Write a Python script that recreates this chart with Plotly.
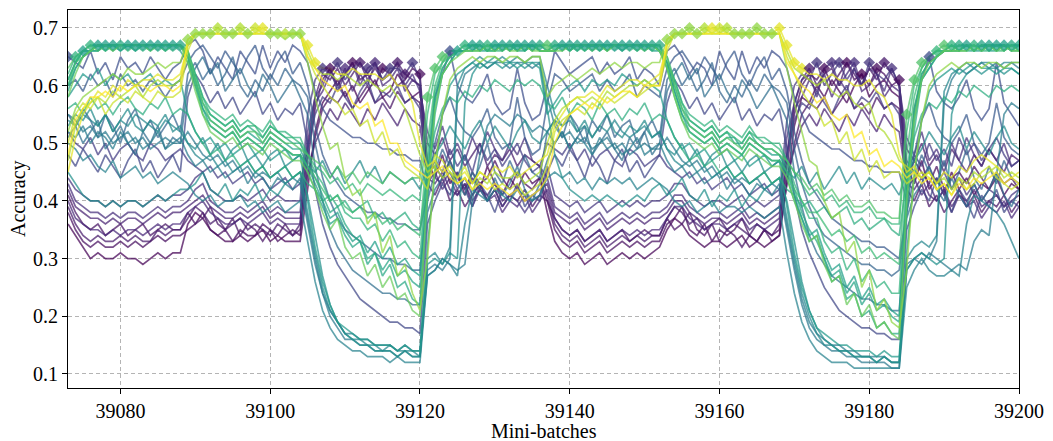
import plotly.graph_objects as go
from plotly.colors import sample_colorscale

mini_batches = list(range(39073, 39201))
x_ticks = [39080, 39100, 39120, 39140, 39160, 39180, 39200]
x_tick_labels = ["39080", "39100", "39120", "39140", "39160", "39180", "39200"]
y_ticks = [0.1, 0.2, 0.3, 0.4, 0.5, 0.6, 0.7]
y_tick_labels = ["0.1", "0.2", "0.3", "0.4", "0.5", "0.6", "0.7"]

# accuracy values in percent, one list per model (128 mini-batches each)
p1 = [36,34,32,30,31,30,30,31,30,30,29,30,31,30,31,31,
      36,38,37,35,34,33,33,34,33,34,35,33,34,33,33,33,
      42,52,57,59,61,58,60,57,59,61,58,59,62,60,58,59,
      47,44,48,43,45,41,44,42,46,43,41,44,42,45,43,44,
      38,33,31,30,31,29,30,31,29,30,31,30,31,30,31,32,
      35,37,36,34,33,32,33,33,32,33,34,32,33,32,33,34,
      43,53,58,57,60,58,61,59,57,60,62,58,60,61,59,58,
      46,43,47,42,44,41,45,42,44,41,43,42,44,41,43,42]
p2 = [38,35,33,32,33,32,32,33,32,33,32,33,34,33,34,34,
      35,36,38,35,34,35,33,35,34,34,36,35,33,34,35,34,
      47,56,61,63,60,62,64,61,62,60,63,62,60,61,63,62,
      45,46,44,47,44,42,45,43,44,47,44,42,45,43,42,44,
      40,35,33,32,33,31,32,33,31,32,33,32,33,32,33,33,
      36,37,39,35,34,36,33,35,34,35,37,34,33,35,34,35,
      46,55,60,62,61,63,60,62,64,61,62,60,63,62,60,61,
      44,47,45,43,46,42,44,45,43,46,44,42,45,43,44,42]
p9 = [41,38,36,35,36,34,35,36,34,35,36,34,35,36,35,35,
      38,36,37,39,36,35,37,34,36,35,33,35,34,36,34,35,
      44,51,56,58,57,59,56,58,60,57,58,56,59,57,58,57,
      43,41,44,40,42,39,41,43,40,42,39,41,40,42,39,41,
      40,37,35,34,35,33,34,35,33,34,35,33,34,35,34,34,
      37,35,36,38,35,34,36,33,35,34,32,34,33,35,33,34,
      43,50,55,57,56,58,55,57,59,56,57,55,58,56,57,56,
      42,40,43,39,41,38,40,42,39,41,38,40,39,41,38,40]
p3 = [39,36,34,33,34,33,33,34,33,34,33,33,35,34,35,35,
      37,39,38,36,37,35,36,37,35,36,35,34,36,35,34,36,
      50,58,62,61,63,60,62,64,61,63,61,62,64,62,61,60,
      50,48,51,47,49,46,48,50,46,48,47,49,46,48,47,46,
      41,36,34,33,34,32,33,34,32,33,34,33,34,33,34,34,
      37,39,38,36,37,35,36,37,35,36,35,34,36,35,34,36,
      48,57,61,63,60,62,63,60,64,62,60,63,61,64,62,60,
      49,47,50,46,48,45,49,47,45,48,46,49,47,45,48,47]
p4 = [42,39,38,37,37,36,37,36,37,37,36,37,38,37,38,38,
      39,40,41,39,38,37,37,38,37,38,39,37,38,37,37,37,
      45,50,53,56,54,57,55,53,56,54,57,55,53,56,54,53,
      44,43,45,42,41,43,40,42,41,43,40,41,42,40,41,42,
      43,38,37,36,37,35,36,37,35,36,37,36,37,36,37,37,
      38,40,40,38,37,36,37,37,36,37,38,36,37,36,37,38,
      44,49,53,55,53,56,54,52,55,53,56,54,52,55,53,52,
      43,42,44,41,40,42,39,41,40,42,39,40,41,39,40,41]
p8 = [40,37,36,35,35,34,35,34,35,35,34,35,36,35,36,36,
      38,39,40,38,37,36,36,37,36,37,38,36,37,36,36,36,
      49,57,59,62,60,63,59,62,60,64,60,61,63,59,61,60,
      43,45,42,44,41,43,39,42,40,41,38,40,39,41,38,40,
      42,37,35,34,35,33,34,35,33,34,35,34,35,34,35,35,
      37,39,39,37,36,35,36,36,35,36,37,35,36,35,36,37,
      48,56,58,61,59,62,58,61,59,63,59,60,62,58,60,59,
      42,44,41,43,40,42,38,41,39,40,37,39,38,40,37,39]
p5 = [43,40,39,38,38,37,38,37,38,38,37,38,39,38,39,39,
      40,42,43,40,39,38,38,39,38,39,40,38,39,38,38,38,
      52,58,60,63,59,62,64,60,63,64,61,62,64,60,62,59,
      52,49,53,48,50,47,51,48,52,49,47,50,48,51,47,46,
      44,39,38,37,38,36,37,38,36,37,38,37,38,37,38,38,
      39,41,41,39,38,37,38,38,37,38,39,37,38,37,38,39,
      51,57,61,62,58,63,64,60,62,64,60,63,62,59,63,60,
      51,48,52,47,49,46,50,47,51,48,46,49,47,50,46,47]
p6 = [44,42,41,40,40,39,40,39,40,40,39,40,41,40,41,41,
      42,44,45,42,41,40,40,41,40,41,42,40,41,40,40,40,
      55,61,63,62,64,61,63,64,62,64,61,63,63,62,64,61,
      46,44,43,45,42,44,41,43,40,42,39,41,40,38,40,41,
      46,41,40,39,40,38,39,40,38,39,40,39,40,39,40,40,
      41,43,43,41,40,39,40,40,39,40,41,39,40,39,40,41,
      54,60,62,61,64,60,62,64,61,63,60,64,62,61,63,60,
      47,45,44,46,43,45,42,44,41,43,40,42,41,39,41,42]
p7 = [52,50,49,51,48,50,47,49,50,48,47,50,49,47,48,49,
      47,46,45,46,44,45,43,44,45,43,44,42,43,44,42,43,
      49,55,58,57,60,58,56,59,61,57,59,58,60,57,58,56,
      44,47,45,49,46,48,45,50,47,49,46,48,50,47,45,46,
      50,49,48,50,47,49,46,48,49,47,46,49,48,46,47,48,
      46,45,44,45,43,44,42,43,44,42,43,41,42,43,41,42,
      48,54,57,56,59,57,55,58,60,56,58,57,59,56,57,55,
      45,48,46,50,47,49,46,51,48,50,47,49,51,48,46,47]
db5 = [48,46,49,47,45,48,46,44,47,49,45,47,44,46,48,45,
       58,62,60,57,59,56,58,55,57,59,55,57,54,56,55,57,
       50,42,36,32,29,27,25,23,22,21,20,19,19,18,18,17,
       36,40,43,41,45,42,39,43,41,38,42,40,43,39,41,40,
       45,48,46,49,47,44,48,46,43,47,49,45,47,44,46,48,
       57,61,59,56,58,55,57,54,56,58,54,56,53,55,54,56,
       49,41,35,31,28,25,23,21,20,19,18,18,17,17,16,16,
       35,39,42,40,44,41,38,42,40,37,41,39,42,38,40,39]
db1 = [65,64,63,66,62,64,61,65,63,64,62,65,63,61,63,64,
       67,68,66,62,65,63,61,66,64,62,67,63,66,64,67,66,
       64,59,56,54,53,52,51,51,50,50,49,49,48,48,47,47,
       42,58,62,66,60,58,57,59,62,57,55,56,63,57,54,55,
       60,66,64,62,63,64,65,62,64,62,63,65,61,63,62,60,
       66,67,65,62,64,63,60,66,63,61,66,62,65,63,66,65,
       63,58,55,52,51,50,49,49,48,47,47,46,46,45,45,45,
       40,56,61,65,59,57,56,58,61,56,54,56,64,57,55,53]
db2 = [60,61,59,62,60,61,58,62,60,61,59,61,60,58,60,61,
       64,66,67,65,63,66,64,62,65,67,63,61,64,66,62,64,
       60,53,48,45,43,41,40,39,38,38,37,37,36,36,35,35,
       41,50,55,58,54,52,51,53,56,51,49,50,58,51,48,49,
       57,62,61,59,60,61,62,59,61,59,60,62,58,60,59,58,
       63,65,66,64,62,65,63,61,64,66,62,60,63,65,61,63,
       59,52,47,43,41,39,37,36,35,34,33,33,32,32,31,30,
       38,48,54,57,53,51,50,52,55,50,48,50,57,51,49,48]
db3 = [55,53,56,54,51,55,53,50,54,56,52,54,51,53,55,52,
       62,64,61,63,60,62,65,60,58,61,59,62,60,63,61,60,
       58,50,44,40,37,35,34,33,32,31,30,30,29,29,28,28,
       40,45,49,46,44,48,43,46,50,45,43,47,44,48,45,44,
       52,54,51,55,53,50,54,52,55,51,53,54,50,52,54,51,
       61,63,60,62,59,61,64,59,57,60,58,61,59,62,60,59,
       57,49,43,39,36,34,33,32,31,30,29,29,28,28,27,28,
       38,44,48,45,43,47,42,45,49,44,42,46,43,47,44,43]
db4 = [51,53,50,52,54,49,51,53,50,48,52,50,53,49,51,50,
       60,63,65,62,64,59,61,63,60,58,62,60,57,59,61,58,
       55,46,40,35,32,30,28,27,26,25,24,24,23,23,22,22,
       38,42,44,47,43,41,45,42,40,44,41,43,46,42,40,43,
       47,50,52,49,51,53,48,50,52,49,47,51,49,52,48,50,
       59,62,64,61,63,58,60,62,59,57,61,59,56,58,60,57,
       54,45,39,34,31,29,27,26,25,24,23,23,22,22,21,21,
       37,41,43,46,42,40,44,41,39,43,40,42,45,41,39,42]
t1 = [55,54,52,53,51,52,50,51,52,50,51,49,50,51,50,50,
      52,50,48,47,48,46,47,45,46,44,45,44,45,43,44,43,
      36,29,24,20,18,16,16,15,15,14,14,14,13,14,13,13,
      28,29,28,30,58,62,63,64,63,64,64,63,64,64,63,64,
      58,53,51,52,50,51,49,50,51,49,50,48,49,50,49,49,
      51,49,47,46,47,45,46,44,45,43,44,43,44,42,43,42,
      35,28,22,18,16,15,14,14,13,13,12,12,12,12,11,11,
      29,30,31,30,33,57,61,63,62,63,64,63,64,63,64,63]
t6 = [52,51,53,50,52,51,49,52,50,51,49,50,52,49,50,51,
      48,46,47,45,46,44,45,46,43,45,44,42,44,43,42,44,
      37,30,24,21,19,17,17,16,16,15,15,15,14,15,14,14,
      27,28,30,29,28,29,40,48,53,55,54,53,55,54,52,53,
      52,50,52,49,51,50,48,51,49,50,48,49,51,48,49,50,
      47,45,46,44,45,43,44,45,42,44,43,41,43,42,41,43,
      36,29,23,19,17,16,15,15,14,14,13,13,13,13,12,12,
      28,30,29,31,30,29,28,29,28,33,35,34,45,55,57,56]
t2 = [50,49,47,48,46,45,47,44,45,46,44,45,43,44,45,44,
      43,41,40,41,39,40,40,41,39,40,38,39,40,38,39,40,
      33,26,21,18,16,15,14,14,13,13,13,12,13,12,12,12,
      27,28,30,29,27,36,42,41,40,42,41,40,42,41,40,41,
      44,45,44,45,43,44,42,44,43,44,43,44,42,43,44,43,
      42,40,39,40,38,39,40,38,39,39,38,39,38,37,38,39,
      31,24,19,16,14,13,12,12,12,11,11,11,11,11,11,11,
      25,28,30,28,27,27,28,27,36,41,40,39,38,36,33,30]
t3 = [54,53,55,54,53,55,52,54,53,55,54,53,52,54,53,52,
      50,48,47,48,46,47,45,46,47,45,46,44,45,46,44,45,
      38,31,25,21,19,17,16,16,15,15,14,15,14,14,14,13,
      30,31,29,32,60,63,64,65,64,64,65,64,65,64,65,65,
      60,55,53,54,52,53,51,53,52,54,52,51,52,53,51,52,
      49,47,46,47,45,46,44,45,46,44,45,43,44,45,43,44,
      37,30,24,20,17,15,15,14,14,13,13,13,12,13,12,12,
      30,32,33,32,34,59,62,63,64,63,64,64,63,64,64,64]
m1 = [53,55,54,56,53,55,52,54,56,53,52,54,53,55,52,53,
      50,49,51,48,50,47,49,50,47,48,46,48,49,46,47,48,
      46,45,47,44,46,43,45,47,44,46,43,45,44,43,44,42,
      46,48,50,53,51,49,52,54,50,53,51,49,52,54,51,50,
      52,54,53,55,52,54,51,53,55,52,51,53,52,54,51,52,
      49,48,50,47,49,46,48,49,46,47,45,47,48,45,46,47,
      45,44,46,43,45,42,44,46,43,45,42,44,43,42,43,41,
      45,47,49,52,50,48,51,53,49,52,50,48,51,53,50,49]
t4 = [45,43,41,40,40,39,40,39,40,40,39,40,41,40,41,42,
      42,43,45,42,41,43,40,42,41,43,40,42,41,43,44,45,
      41,34,27,22,19,17,16,15,15,14,14,14,13,14,13,13,
      29,30,29,31,30,57,62,64,63,64,63,64,64,63,64,64,
      56,48,44,42,41,40,41,40,41,40,39,40,41,40,42,43,
      41,42,44,41,40,42,39,41,40,42,39,41,40,42,43,44,
      40,33,26,21,18,16,15,14,14,13,13,13,12,13,12,12,
      28,30,31,30,29,30,55,60,62,63,62,63,63,62,63,62]
t5 = [58,60,62,61,63,60,62,61,62,60,61,62,60,61,60,61,
      55,52,50,51,49,50,48,49,50,48,49,47,48,49,47,48,
      40,32,26,22,19,18,17,16,16,15,15,15,14,15,14,14,
      32,45,55,60,62,63,64,63,64,65,64,64,63,64,64,63,
      55,57,59,60,61,59,61,60,61,60,62,61,60,61,60,59,
      54,51,49,50,48,49,47,48,49,47,48,46,47,48,46,47,
      39,31,25,21,18,17,16,15,15,14,14,14,13,14,13,13,
      31,44,54,59,61,62,63,62,63,64,63,63,62,63,63,62]
g1 = [61,64,66,66,67,67,67,66,67,67,67,67,67,67,67,66,
      64,60,56,54,53,52,53,51,52,51,50,52,51,50,49,49,
      46,43,40,37,38,35,33,34,31,33,30,32,29,30,28,27,
      45,58,63,65,66,66,67,66,66,67,67,66,67,67,67,66,
      66,66,67,67,66,67,67,67,67,66,67,67,67,67,66,66,
      63,59,55,53,52,51,52,50,51,51,49,51,50,49,48,48,
      45,41,37,34,35,31,28,29,25,27,23,25,22,23,21,20,
      42,55,62,64,65,66,66,66,67,66,66,67,67,67,66,66]
g7 = [60,63,65,66,66,67,67,66,67,66,67,67,67,66,67,67,
      65,61,56,53,52,51,52,50,51,50,49,51,50,49,48,48,
      45,42,39,36,37,34,32,33,29,31,28,30,27,28,26,25,
      43,57,62,64,66,66,66,67,66,67,66,67,66,66,67,66,
      66,66,67,66,67,67,66,67,67,67,66,67,66,67,67,66,
      64,59,55,52,51,50,51,49,50,49,48,50,49,48,47,47,
      44,40,37,33,34,30,27,28,24,26,22,24,21,22,20,19,
      41,54,61,63,65,66,66,66,67,66,67,66,66,67,66,67]
g2 = [59,63,65,66,66,67,66,67,67,66,67,67,66,67,67,67,
      65,61,57,55,54,53,54,52,53,52,51,53,52,51,50,50,
      47,44,41,38,39,36,34,33,30,31,27,29,25,26,23,22,
      40,55,62,64,66,66,66,67,66,66,67,67,66,67,66,67,
      66,67,66,67,67,66,67,66,67,67,66,67,67,66,67,67,
      64,60,56,54,53,52,53,51,52,50,50,52,50,49,49,48,
      46,42,38,35,33,30,26,27,23,24,20,21,18,19,17,17,
      38,52,61,63,65,66,66,67,66,66,67,66,67,66,67,67]
m2 = [56,57,55,58,56,57,55,57,58,56,55,57,56,58,55,56,
      55,52,50,48,49,47,48,46,47,45,46,44,45,46,44,45,
      43,42,40,41,39,40,38,39,40,37,38,36,37,38,36,35,
      45,52,56,58,57,59,58,60,59,61,60,59,61,60,61,60,
      57,56,58,55,57,56,54,57,55,56,54,56,55,57,54,55,
      54,51,49,47,48,46,47,45,46,44,45,43,44,45,43,44,
      42,41,39,40,38,39,37,38,39,36,37,35,36,37,35,34,
      44,51,55,57,56,58,57,59,58,60,59,58,60,59,60,59]
g3 = [62,65,66,67,67,66,67,67,67,67,66,67,67,67,66,67,
      66,62,58,56,55,54,55,53,54,53,52,54,52,52,51,51,
      48,45,43,40,41,38,37,37,35,36,33,35,32,33,31,30,
      47,59,63,65,66,67,66,66,67,66,66,67,67,66,67,66,
      66,66,67,66,67,67,67,66,67,67,67,66,67,67,67,66,
      64,61,57,55,54,53,54,52,53,52,51,53,51,51,50,50,
      47,43,40,37,37,33,31,32,28,30,26,28,25,26,24,24,
      44,56,62,64,65,66,67,66,66,67,66,66,67,67,66,67]
g8 = [61,64,66,66,67,66,67,67,67,67,67,66,67,67,67,67,
      66,62,58,55,54,53,54,52,53,53,51,53,52,51,51,50,
      48,46,45,43,44,42,43,41,43,42,41,42,41,40,41,40,
      55,62,64,66,66,66,67,67,66,67,67,66,67,66,67,67,
      66,67,67,67,66,67,67,67,66,67,67,67,67,67,66,67,
      65,61,57,54,53,52,53,51,52,51,50,52,51,50,50,49,
      47,45,43,41,42,40,41,39,40,38,38,39,37,37,36,36,
      52,60,63,65,66,66,67,66,67,67,66,67,66,67,67,66]
g4 = [60,64,65,66,67,67,67,67,66,67,67,67,67,66,67,67,
      65,60,55,53,52,51,52,50,51,50,49,51,50,49,48,48,
      46,44,42,40,41,39,38,39,37,38,36,37,35,36,35,34,
      50,60,64,65,66,66,67,67,66,66,67,67,66,67,67,66,
      66,67,67,66,67,66,67,67,66,67,67,67,66,67,67,67,
      63,58,54,52,51,50,51,49,50,49,48,50,49,48,47,47,
      45,42,40,38,38,36,34,35,33,34,31,32,30,31,30,29,
      48,58,63,65,66,66,67,66,67,66,67,67,66,66,67,67]
g5 = [63,65,66,67,66,67,67,67,67,67,67,66,67,67,67,67,
      66,61,57,54,53,52,53,51,52,52,50,52,51,50,50,49,
      48,47,46,44,46,44,45,43,45,44,43,45,44,43,44,44,
      58,63,65,66,66,67,67,66,67,67,66,67,67,67,66,67,
      67,66,67,67,67,67,66,67,67,67,67,67,67,66,67,66,
      65,60,56,53,52,51,52,50,51,50,49,51,50,49,49,48,
      47,45,44,42,43,41,42,40,41,39,39,40,38,38,37,37,
      55,61,64,65,66,67,66,67,67,66,67,67,67,66,67,66]
g6 = [58,62,65,66,67,67,66,67,67,67,67,67,67,67,67,67,
      64,59,55,52,51,50,51,49,50,49,48,50,49,48,47,47,
      45,42,38,35,37,32,30,31,27,29,25,27,23,24,21,20,
      42,56,62,64,65,66,66,66,67,66,67,66,66,67,66,66,
      66,66,66,67,67,67,67,67,66,67,67,67,67,67,67,66,
      63,58,54,51,50,49,50,48,49,48,47,49,48,47,46,46,
      44,40,36,33,34,29,26,27,22,24,20,22,18,19,17,16,
      40,54,61,64,65,66,66,66,66,67,66,67,66,67,66,66]
yg1 = [52,56,58,59,60,61,62,61,63,62,62,63,64,63,64,64,
       68,69,69,69,69,69,69,69,69,69,69,69,69,68,69,69,
       64,58,53,49,50,44,41,42,36,38,31,34,27,29,24,21,
       30,46,55,61,63,64,65,64,65,65,64,65,65,64,65,65,
       58,60,61,62,61,62,63,62,63,64,63,64,64,63,64,64,
       68,69,69,70,69,69,69,69,69,69,69,69,70,69,69,69,
       63,57,52,47,46,40,37,38,31,33,25,28,21,23,19,18,
       28,45,54,60,62,63,64,63,64,64,63,64,64,63,64,64]
y1 = [47,53,56,57,58,57,59,58,59,60,58,60,61,60,60,61,
      67,69,69,69,70,69,69,70,69,69,69,69,69,69,69,69,
      66,63,62,62,61,62,61,60,61,60,59,60,58,56,52,48,
      45,46,44,45,43,44,42,44,43,45,44,44,45,43,44,45,
      50,54,56,57,58,57,58,57,59,58,59,60,60,61,60,61,
      67,69,69,69,69,70,69,69,70,69,69,69,69,69,69,69,
      66,63,62,61,60,61,59,58,59,57,56,57,53,52,50,47,
      46,45,44,45,43,44,42,44,43,45,44,45,46,44,45,44]
y2 = [50,55,57,56,58,55,57,58,57,59,58,57,59,58,58,59,
      66,69,69,69,69,69,69,69,69,70,69,69,69,69,69,69,
      65,62,60,58,57,55,56,53,54,50,52,48,49,46,45,44,
      42,48,47,45,44,46,43,45,44,42,43,42,43,41,42,43,
      46,52,54,55,56,55,57,56,58,57,58,59,58,59,60,60,
      66,69,69,69,69,69,69,70,69,69,69,69,69,69,69,69,
      65,62,59,57,56,53,54,50,52,47,49,45,47,44,45,45,
      43,44,45,44,42,43,41,44,42,43,45,46,44,43,42,43]
y3 = [45,51,55,57,59,58,60,59,61,60,61,61,62,61,61,62,
      67,69,69,69,69,69,69,69,69,69,70,69,69,69,69,69,
      67,64,63,63,62,62,63,62,62,62,61,62,60,60,57,50,
      46,47,45,46,44,45,43,45,44,46,45,46,44,45,46,47,
      48,53,55,57,58,58,59,58,60,59,60,61,61,60,61,62,
      67,69,69,69,69,69,70,69,69,69,69,69,69,69,69,70,
      67,64,63,62,62,61,62,61,61,60,60,61,59,58,55,48,
      45,46,44,45,43,45,44,46,45,47,48,47,46,45,44,45]
y4 = [48,54,56,58,58,59,58,60,59,60,60,59,60,60,59,60,
      68,69,69,69,69,69,69,69,69,69,69,69,69,69,69,69,
      65,63,61,60,59,60,57,56,57,53,54,50,50,47,46,45,
      44,45,46,44,43,44,42,43,42,43,42,41,42,40,41,42,
      44,50,53,55,56,57,56,58,57,58,59,59,58,60,60,60,
      68,69,69,69,69,69,69,69,69,69,69,69,69,69,69,69,
      64,62,60,59,57,58,55,54,55,51,52,48,49,46,47,46,
      44,45,43,44,42,43,41,43,42,44,43,44,45,43,44,43]

models = [p1, p2, p9, p3, p4, p8, p5, p6, p7, db5, db1, db2, db3, db4,
          t1, t6, t2, t3, m1, t4, t5, g1, g7, g2, m2, g3, g8, g4, g5, g6,
          yg1, y1, y2, y3, y4]
# position of each model on the viridis colour map (style)
cmap_pos = [0.00, 0.03, 0.05, 0.07, 0.09, 0.11, 0.13, 0.15, 0.18, 0.21, 0.24, 0.28, 0.32, 0.36,
            0.40, 0.42, 0.44, 0.46, 0.48, 0.50, 0.53, 0.56, 0.58, 0.60, 0.62, 0.64, 0.66,
            0.68, 0.72, 0.77, 0.83, 0.88, 0.92, 0.96, 1.00]

SERIF = "Liberation Serif, Times New Roman, Times, serif"


def rgba(c, a):
    s = sample_colorscale("Viridis", [c])[0]
    s = s.replace("rgb(", "").replace(")", "")
    r, g, b = [float(v) for v in s.split(",")]
    return f"rgba({int(r)},{int(g)},{int(b)},{a})"


fig = go.Figure()
for vals, c in zip(models, cmap_pos):
    fig.add_trace(go.Scatter(
        x=mini_batches, y=[v / 100 for v in vals], mode="lines",
        line=dict(color=rgba(c, 0.72), width=1.7), showlegend=False, hoverinfo="skip"))

# diamond marking the best model at each mini-batch
best_y, best_col = [], []
for i in range(len(mini_batches)):
    k = max(range(len(models)), key=lambda m: models[m][i])
    best_y.append(models[k][i] / 100)
    best_col.append(rgba(cmap_pos[k], 0.75))
fig.add_trace(go.Scatter(
    x=mini_batches, y=best_y, mode="markers",
    marker=dict(symbol="diamond", size=9, color=best_col, line=dict(width=0)),
    showlegend=False, hoverinfo="skip"))

axis_common = dict(
    showline=True, mirror=True, linecolor="black", linewidth=1,
    ticks="outside", ticklen=5, tickcolor="black", automargin=False,
    showgrid=True, gridcolor="#b4b4b4", griddash="4px,3px", gridwidth=1,
    zeroline=False, tickfont=dict(family=SERIF, size=20, color="black"),
)
# the page body adds an 8px margin, so the figure is sized to compensate
fig.update_layout(
    width=1045, height=433,
    margin=dict(l=60, r=34, t=2, b=53),
    paper_bgcolor="white", plot_bgcolor="white",
    font=dict(family=SERIF, size=20, color="black"),
    xaxis=dict(range=[39073, 39200], tickvals=x_ticks, ticktext=x_tick_labels, **axis_common),
    yaxis=dict(range=[0.0757, 0.731], tickvals=y_ticks, ticktext=y_tick_labels, **axis_common),
    annotations=[
        dict(text="Mini-batches", xref="paper", yref="paper", x=0.5, y=0,
             yshift=-43, showarrow=False, xanchor="center", yanchor="middle",
             font=dict(family=SERIF, size=20)),
        dict(text="Accuracy", xref="paper", yref="paper", x=0, y=0.5,
             xshift=-50, showarrow=False, textangle=-90, xanchor="center",
             yanchor="middle", font=dict(family=SERIF, size=20)),
    ],
)
fig.write_html("out.html")
